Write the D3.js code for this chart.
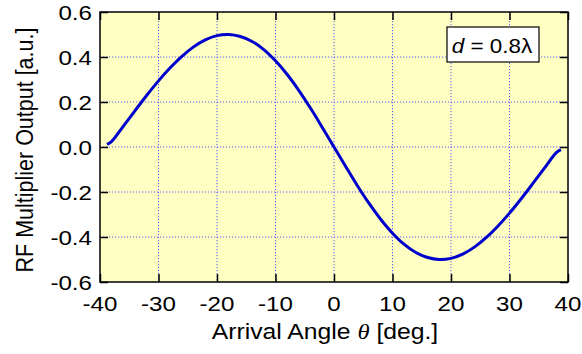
<!DOCTYPE html>
<html><head>
<meta charset="utf-8">
<script src="https://d3js.org/d3.v7.min.js"></script>
<style>
  body { margin: 0; background: #fff; }
  text { font-family: "Liberation Sans", Arial, sans-serif; fill: #000; }
</style>
</head>
<body>
<svg id="chart" width="582" height="354"></svg>
<script>
  // arrival angle (deg) and multiplier output (a.u.)
  const angles = [-38.8, -38, -36, -34, -32, -30, -28, -26, -24, -22, -20, -18, -16, -14, -12, -10, -8, -6, -4, -2,
                  0, 2, 4, 6, 8, 10, 12, 14, 16, 18, 20, 22, 24, 26, 28, 30, 32, 34, 36, 38, 38.8];
  const output = [0.012, 0.025, 0.093, 0.162, 0.230, 0.294, 0.352, 0.403, 0.445, 0.476, 0.495, 0.500, 0.491, 0.469, 0.433, 0.383, 0.322, 0.251, 0.172, 0.087,
                  0, -0.087, -0.172, -0.251, -0.322, -0.383, -0.433, -0.469, -0.491, -0.500, -0.495, -0.476, -0.445, -0.403, -0.352, -0.294, -0.230, -0.162, -0.093, -0.025, -0.012];
  const xTicks = [-40, -30, -20, -10, 0, 10, 20, 30, 40];
  const yTicks = [-0.6, -0.4, -0.2, 0.0, 0.2, 0.4, 0.6];

  const svg = d3.select("#chart");
  const pLeft = 100, pRight = 568, pTop = 12, pBottom = 282;
  const stretch = 1.15; // text in the original is a bit wider than tall

  const x = d3.scaleLinear().domain([-40, 40]).range([pLeft, pRight]);
  const y = d3.scaleLinear().domain([-0.6, 0.6]).range([pBottom, pTop]);

  svg.append("rect")
    .attr("x", pLeft).attr("y", pTop)
    .attr("width", pRight - pLeft).attr("height", pBottom - pTop)
    .attr("fill", "#ffffc4");

  // dotted grid
  const grid = svg.append("g")
    .attr("stroke", "#5a5aff").attr("stroke-width", 1).attr("stroke-dasharray", "1.2,1.8");
  grid.selectAll("line.vx").data(xTicks.slice(1, -1)).join("line")
    .attr("class", "vx")
    .attr("x1", d => x(d)).attr("x2", d => x(d))
    .attr("y1", pTop).attr("y2", pBottom);
  grid.selectAll("line.hy").data(yTicks.slice(1, -1)).join("line")
    .attr("class", "hy")
    .attr("x1", pLeft).attr("x2", pRight)
    .attr("y1", d => y(d)).attr("y2", d => y(d));

  // inward ticks on all four sides
  const tickLen = 8;
  const axisStyle = g => g.call(g => g.select(".domain").remove())
    .call(g => g.selectAll(".tick line").attr("stroke", "#000").attr("stroke-width", 1.5))
    .call(g => g.selectAll("text").remove());

  svg.append("g").attr("transform", `translate(0,${pBottom})`)
    .call(d3.axisBottom(x).tickValues(xTicks).tickSize(-tickLen)).call(axisStyle);
  svg.append("g").attr("transform", `translate(0,${pTop})`)
    .call(d3.axisTop(x).tickValues(xTicks).tickSize(-tickLen)).call(axisStyle);
  svg.append("g").attr("transform", `translate(${pLeft},0)`)
    .call(d3.axisLeft(y).tickValues(yTicks).tickSize(-tickLen)).call(axisStyle);
  svg.append("g").attr("transform", `translate(${pRight},0)`)
    .call(d3.axisRight(y).tickValues(yTicks).tickSize(-tickLen)).call(axisStyle);

  // curve
  const line = d3.line().x((d, i) => x(angles[i])).y(d => y(d)).curve(d3.curveCatmullRom);
  svg.append("path")
    .datum(output)
    .attr("d", line)
    .attr("fill", "none")
    .attr("stroke", "#0000cc")
    .attr("stroke-width", 3);

  // frame
  svg.append("rect")
    .attr("x", pLeft).attr("y", pTop)
    .attr("width", pRight - pLeft).attr("height", pBottom - pTop)
    .attr("fill", "none").attr("stroke", "#000").attr("stroke-width", 1.5);

  // tick labels
  svg.selectAll("text.xt").data(xTicks).join("text")
    .attr("class", "xt")
    .attr("transform", d => `translate(${x(d)},311) scale(${stretch},1)`)
    .attr("text-anchor", "middle")
    .attr("font-size", 21)
    .text(d => d);
  svg.selectAll("text.yt").data(yTicks).join("text")
    .attr("class", "yt")
    .attr("transform", d => `translate(92,${y(d) + 7.5}) scale(${stretch},1)`)
    .attr("text-anchor", "end")
    .attr("font-size", 21)
    .text(d => d.toFixed(1));

  // axis titles
  const xt = svg.append("text")
    .attr("transform", `translate(325,339) scale(${stretch},1)`)
    .attr("text-anchor", "middle")
    .attr("font-size", 21.5);
  xt.append("tspan").text("Arrival Angle ");
  xt.append("tspan").attr("font-family", "'Liberation Serif', 'Times New Roman', serif")
    .attr("font-style", "italic").text("θ");
  xt.append("tspan").text(" [deg.]");

  svg.append("text")
    .attr("transform", `translate(33,150) rotate(-90) scale(1,${stretch})`)
    .attr("text-anchor", "middle")
    .attr("font-size", 21.5)
    .text("RF Multiplier Output [a.u.]");

  // annotation box
  svg.append("rect")
    .attr("x", 447).attr("y", 27).attr("width", 92).attr("height", 35)
    .attr("fill", "#fff").attr("stroke", "#000").attr("stroke-width", 1.2);
  const ann = svg.append("text")
    .attr("transform", `translate(492,53) scale(${stretch},1)`)
    .attr("text-anchor", "middle")
    .attr("font-size", 19.5);
  ann.append("tspan").attr("font-style", "italic").text("d");
  ann.append("tspan").text(" = 0.8λ");
</script>
</body>
</html>
